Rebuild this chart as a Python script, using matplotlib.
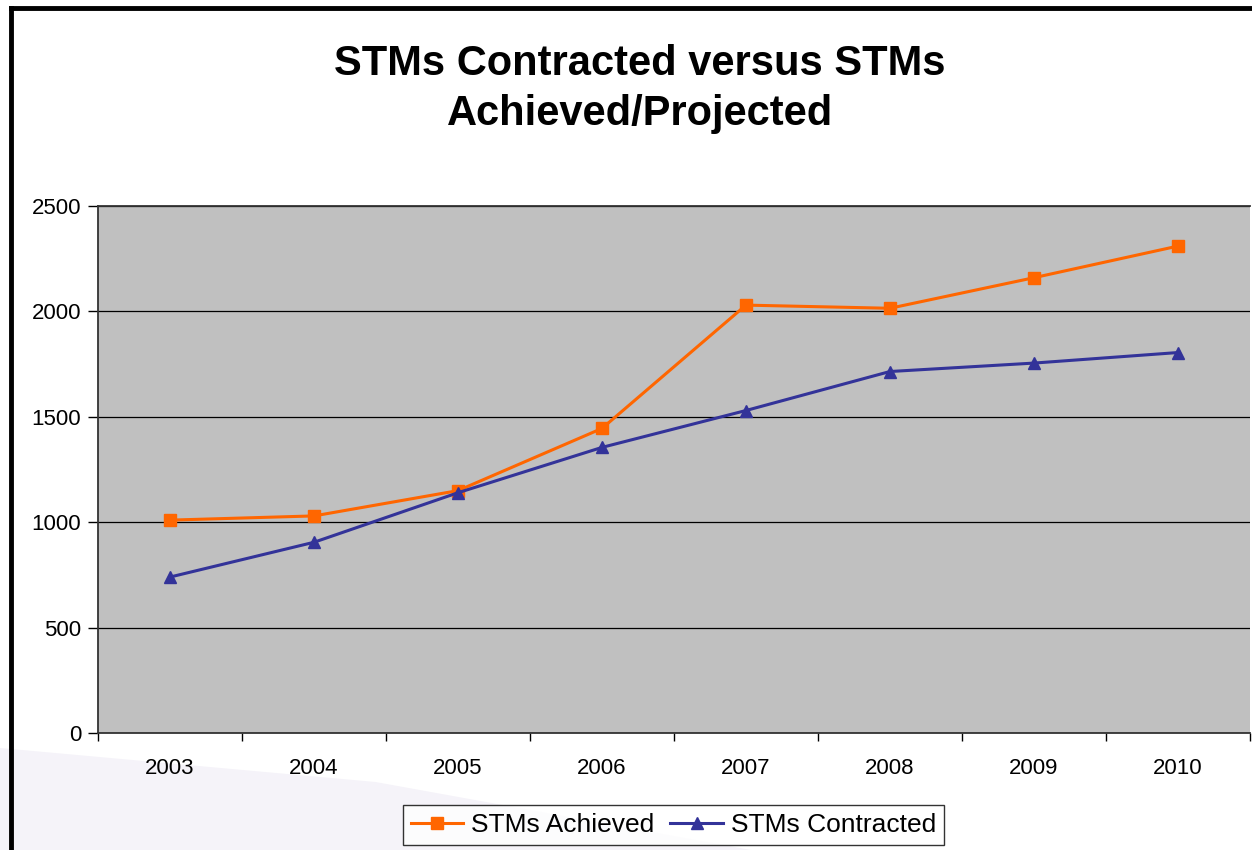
import matplotlib.pyplot as plt
from matplotlib.patches import Polygon
import numpy as np

plt.rcParams['font.family'] = ['Liberation Sans', 'DejaVu Sans']

years = ['2003', '2004', '2005', '2006', '2007', '2008', '2009', '2010']
achieved = [1010, 1030, 1150, 1445, 2030, 2015, 2160, 2310]
contracted = [740, 905, 1140, 1355, 1530, 1715, 1755, 1805]

fig = plt.figure(figsize=(12.52, 8.5), dpi=100)
fig.patch.set_facecolor('white')

# faint decorative swoosh in the slide background
swoosh = Polygon([(0, 0), (0, 0.12), (0.3, 0.08), (0.6, 0.0)],
                 closed=True, transform=fig.transFigure,
                 facecolor='#f5f3f9', edgecolor='none', zorder=-5)
fig.patches.append(swoosh)

# slide border (left and top edges visible)
fig.add_artist(plt.Line2D([0.009, 0.009], [0, 0.991], transform=fig.transFigure,
                          color='black', linewidth=3.5))
fig.add_artist(plt.Line2D([0.009, 1.0], [0.991, 0.991], transform=fig.transFigure,
                          color='black', linewidth=3.5))

ax = fig.add_axes([0.0783, 0.1376, 0.92, 0.62])
ax.set_facecolor('#c0c0c0')

x = np.arange(len(years))
ax.plot(x, achieved, color='#ff6600', linewidth=2.2, marker='s', markersize=8,
        label='STMs Achieved', zorder=3)
ax.plot(x, contracted, color='#333399', linewidth=2.2, marker='^', markersize=8,
        label='STMs Contracted', zorder=3)

ax.set_xlim(-0.5, len(years) - 0.5)
ax.set_ylim(0, 2500)
ax.set_yticks(range(0, 2501, 500))
ax.yaxis.grid(True, color='black', linewidth=0.9)
ax.set_axisbelow(True)

ax.set_xticks(np.arange(-0.5, len(years), 1.0))
ax.set_xticklabels([])
ax.set_xticks(x, minor=True)
ax.set_xticklabels(years, minor=True)
ax.tick_params(axis='x', which='minor', length=0, pad=18, labelsize=16)
ax.tick_params(axis='x', which='major', length=6, width=1, direction='out')
ax.tick_params(axis='y', length=7, width=1, direction='out', labelsize=16, pad=5)

for side in ['top', 'right']:
    ax.spines[side].set_visible(False)
for side in ['left', 'bottom']:
    ax.spines[side].set_color('#333333')
    ax.spines[side].set_linewidth(1.3)
ax.plot([-0.5, len(years) - 0.5], [2500, 2500], color='#333333', linewidth=1.3,
        clip_on=False, zorder=2)

fig.text(0.511, 0.895, 'STMs Contracted versus STMs\nAchieved/Projected',
         ha='center', va='center', fontsize=30, fontweight='bold', linespacing=1.32)

leg = fig.legend(loc='lower center', bbox_to_anchor=(0.538, -0.01), ncol=2,
                 fontsize=19, frameon=True, fancybox=False, edgecolor='black',
                 handlelength=2.0, handletextpad=0.3, columnspacing=0.6,
                 borderpad=0.3)
leg.get_frame().set_linewidth(1.0)

plt.savefig('out.png', dpi=100, facecolor=fig.get_facecolor())
